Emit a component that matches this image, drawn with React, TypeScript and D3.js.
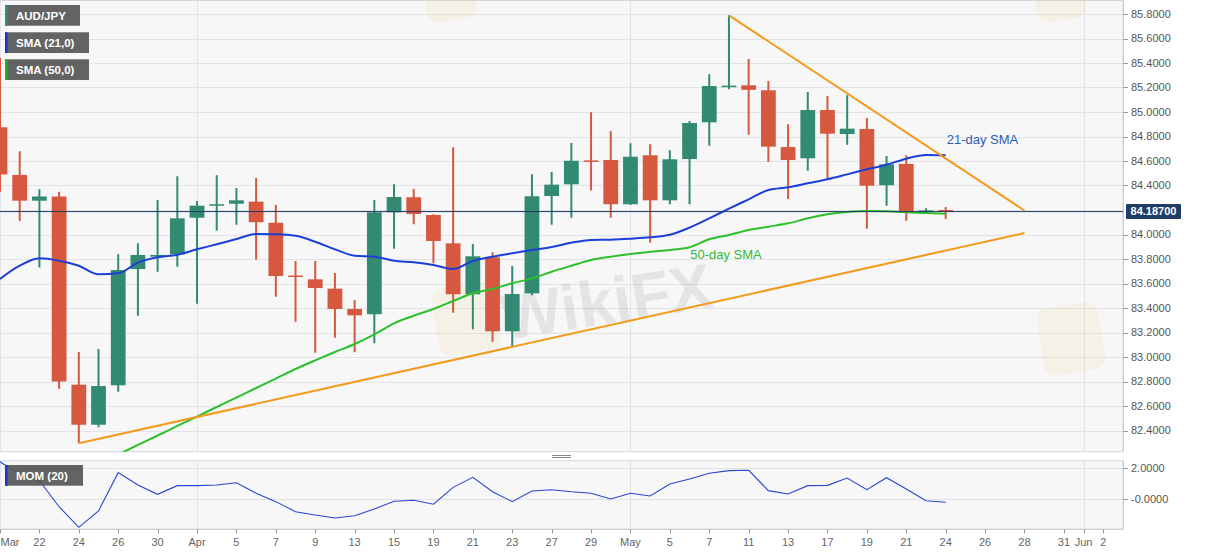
import React from 'react';
import * as d3 from 'd3';

const W = 1207;
const H = 555;

// ---------- DATA ----------
const barDates = [
  '2021-03-18', '2021-03-19', '2021-03-22', '2021-03-23', '2021-03-24', '2021-03-25', '2021-03-26',
  '2021-03-29', '2021-03-30', '2021-03-31', '2021-04-01', '2021-04-02',
  '2021-04-05', '2021-04-06', '2021-04-07', '2021-04-08', '2021-04-09',
  '2021-04-12', '2021-04-13', '2021-04-14', '2021-04-15', '2021-04-16',
  '2021-04-19', '2021-04-20', '2021-04-21', '2021-04-22', '2021-04-23',
  '2021-04-26', '2021-04-27', '2021-04-28', '2021-04-29', '2021-04-30',
  '2021-05-03', '2021-05-04', '2021-05-05', '2021-05-06', '2021-05-07',
  '2021-05-10', '2021-05-11', '2021-05-12', '2021-05-13', '2021-05-14',
  '2021-05-17', '2021-05-18', '2021-05-19', '2021-05-20', '2021-05-21',
  '2021-05-23', '2021-05-24',
];
const futureDates = ['2021-05-25', '2021-05-26', '2021-05-27', '2021-05-28', '2021-05-30', '2021-05-31', '2021-06-01', '2021-06-02'];

const opens = [
  84.875, 84.486, 84.276, 84.31, 82.774, 82.447, 82.769,
  83.718, 83.819, 83.838, 84.137, 84.24,
  84.251, 84.268, 84.096, 83.665, 83.634,
  83.558, 83.392, 83.349, 84.181, 84.304,
  84.159, 83.928, 83.512, 83.814, 83.21,
  83.52, 84.314, 84.41, 84.605, 84.608,
  84.247, 84.647, 84.279, 84.616, 84.916,
  85.21, 85.218, 85.177, 84.714, 84.622,
  85.016, 84.82, 84.861, 84.402, 84.576,
  84.19, 84.2,
];
const highs = [
  85.44, 84.68, 84.37, 84.35, 83.04, 83.065, 83.838,
  83.928, 84.282, 84.475, 84.273, 84.483,
  84.38, 84.461, 84.241, 83.784, 83.784,
  83.686, 83.465, 84.282, 84.41, 84.371,
  84.165, 84.712, 83.922, 83.855, 83.743,
  84.491, 84.51, 84.747, 84.998, 84.845,
  84.744, 84.736, 84.687, 84.927, 85.308,
  85.789, 85.433, 85.253, 84.9, 85.163,
  85.131, 85.136, 84.951, 84.641, 84.647,
  84.214, 84.224,
];
const lows = [
  84.35, 84.11, 83.73, 82.74, 82.296, 82.426, 82.717,
  83.337, 83.696, 83.737, 83.435, 84.031,
  84.08, 83.794, 83.492, 83.288, 83.035,
  83.158, 83.038, 83.112, 83.884, 84.083,
  83.765, 83.362, 83.226, 83.125, 83.09,
  83.504, 84.08, 84.137, 84.359, 84.137,
  84.24, 83.933, 84.247, 84.247, 84.725,
  85.185, 84.815, 84.594, 84.29, 84.521,
  84.453, 84.733, 84.047, 84.235, 84.113,
  84.181, 84.127,
];
const closes = [
  84.49, 84.276, 84.31, 82.8, 82.447, 82.763, 83.71,
  83.833, 83.833, 84.132, 84.235, 84.247,
  84.279, 84.1, 83.661, 83.655, 83.563,
  83.392, 83.34, 84.181, 84.306, 84.167,
  83.947, 83.512, 83.822, 83.21, 83.514,
  84.312, 84.407, 84.602, 84.598, 84.247,
  84.635, 84.279, 84.614, 84.91, 85.212,
  85.215, 85.181, 84.717, 84.608, 85.016,
  84.823, 84.864, 84.398, 84.573, 84.189,
  84.197, 84.187,
];

const sma21 = [
  83.637, 83.745, 83.806, 83.786, 83.745, 83.675, 83.683,
  83.77, 83.814, 83.835, 83.879, 83.92,
  83.963, 84.004, 84.002, 83.99, 83.941,
  83.879, 83.827, 83.819, 83.786, 83.773,
  83.751, 83.718, 83.784, 83.819, 83.847,
  83.873, 83.898, 83.933, 83.955, 83.958,
  83.966, 83.977, 83.998, 84.056, 84.132,
  84.211, 84.287, 84.363, 84.385, 84.418,
  84.451, 84.491, 84.532, 84.57, 84.619,
  84.649, 84.647,
];
const sma50: (number | null)[] = [
  null, null, null, null, null, 82.127, 82.204,
  82.282, 82.359, 82.437, 82.514, 82.592,
  82.669, 82.747, 82.824, 82.902, 82.973,
  83.041, 83.106, 83.185, 83.275, 83.337,
  83.392, 83.457, 83.52, 83.555, 83.602,
  83.642, 83.696, 83.745, 83.792, 83.819,
  83.841, 83.86, 83.873, 83.896, 83.961,
  83.996, 84.037, 84.064, 84.091, 84.132,
  84.165, 84.184, 84.192, 84.19, 84.181,
  84.176, 84.17,
];
const mom = [
  2.42, 1.6, 1.2, -0.48, -1.81, -0.75, 1.72,
  0.92, 0.32, 0.88, 0.88, 0.92,
  1.07, 0.39, -0.15, -0.8, -1.01,
  -1.21, -1.06, -0.63, -0.13, -0.06,
  -0.32, 0.77, 1.42, 0.49, -0.15,
  0.54, 0.62, 0.49, 0.39, 0.02,
  0.39, 0.21, 0.99, 1.31, 1.68,
  1.85, 1.87, 0.56, 0.34, 0.88,
  0.9, 1.37, 0.62, 1.39, 0.66,
  -0.09, -0.19,
];

const priceTicks = [82.4, 82.6, 82.8, 83.0, 83.2, 83.4, 83.6, 83.8, 84.0, 84.2, 84.4, 84.6, 84.8, 85.0, 85.2, 85.4, 85.6, 85.8];
const momTicks = [2, 0];
const momTickLabels = ['2.0000', '-0.0000'];
const tickDates = [
  '2021-03-18', '2021-03-22', '2021-03-24', '2021-03-26', '2021-03-30', '2021-04-01', '2021-04-05',
  '2021-04-07', '2021-04-09', '2021-04-13', '2021-04-15', '2021-04-19', '2021-04-21', '2021-04-23',
  '2021-04-27', '2021-04-29', '2021-05-03', '2021-05-05', '2021-05-07', '2021-05-11', '2021-05-13',
  '2021-05-17', '2021-05-19', '2021-05-21', '2021-05-24', '2021-05-26', '2021-05-28', '2021-05-31',
  '2021-06-01', '2021-06-02',
];
const tickTexts = [
  'Mar', '22', '24', '26', '30', 'Apr', '5', '7', '9', '13', '15', '19', '21', '23',
  '27', '29', 'May', '5', '7', '11', '13', '17', '19', '21', '24', '26', '28', '31', 'Jun', '2',
];
const monthStarts = ['2021-04-01', '2021-05-03', '2021-06-01'];
const lastPrice = 84.187;
const supportLine = [{ date: '2021-03-24', price: 82.296 }, { date: '2021-05-28', price: 84.012 }];
const resistanceLine = [{ date: '2021-05-10', price: 85.789 }, { date: '2021-05-28', price: 84.196 }];

// ---------- LAYOUT ----------
const plotL = 0;
const plotR = 1123;
const mainT = 0.5;
const mainB = 451.7;
const momT = 460.7;
const momB = 529.3;
const FONT = '"Liberation Sans", Arial, Helvetica, sans-serif';

const GREEN = '#338a72';
const RED = '#d6583f';
const BLUE = '#1c3fd8';
const SMA50C = '#2cc02c';
const ORANGE = '#f39a1c';

export default function App() {
  const allDates = [...barDates, ...futureDates];
  const idx = (d: string) => allDates.indexOf(d);

  const x = d3.scaleLinear().domain([0, 57]).range([plotL, plotR]);
  const y = d3.scaleLinear().domain([82.4, 85.8]).range([430.5, 14]);
  const ym = d3.scaleLinear().domain([0, 2]).range([499.3, 468.3]);

  const bodyW = (x(1) - x(0)) * 0.75;

  const line21 = d3.line<number>().x((_, i) => x(i)).y((d) => y(d)).curve(d3.curveMonotoneX)(sma21) || '';
  const line50 = d3
    .line<number | null>()
    .defined((d) => d !== null)
    .x((_, i) => x(i))
    .y((d) => y(d as number))
    .curve(d3.curveMonotoneX)(sma50) || '';
  const momLine = d3.line<number>().x((_, i) => x(i)).y((d) => ym(d))(mom) || '';
  const trend = d3
    .line<{ date: string; price: number }>()
    .x((d) => x(idx(d.date)))
    .y((d) => y(d.price));

  // faint decorative watermark logos
  const logos = [
    { x: 430, y: 290, s: 62 },
    { x: 1035, y: 310, s: 62 },
    { x: 420, y: -30, s: 50 },
    { x: 1030, y: -30, s: 50 },
  ];

  return (
    <svg
      width={W}
      height={H}
      style={{ position: 'fixed', left: 0, top: 0, background: '#fff', fontFamily: FONT }}
    >
      <defs>
        <clipPath id="mainClip">
          <rect x={plotL} y={mainT} width={plotR - plotL} height={mainB - mainT} />
        </clipPath>
        <clipPath id="momClip">
          <rect x={plotL} y={momT} width={plotR - plotL} height={momB - momT} />
        </clipPath>
      </defs>

      {/* panels */}
      <rect x={plotL} y={mainT} width={plotR - plotL} height={mainB - mainT} fill="#f7f7f8" stroke="#d3d6e2" strokeWidth={1} />
      <rect x={plotL} y={momT} width={plotR - plotL} height={momB - momT} fill="#f7f7f8" stroke="#d3d6e2" strokeWidth={1} />

      {/* horizontal grid */}
      {priceTicks.map((p) => (
        <line key={'g' + p} x1={plotL} x2={plotR} y1={Math.round(y(p)) + 0.5} y2={Math.round(y(p)) + 0.5} stroke="#e2e3e8" strokeWidth={1} />
      ))}
      {momTicks.map((v) => (
        <line key={'gm' + v} x1={plotL} x2={plotR} y1={Math.round(ym(v)) + 0.5} y2={Math.round(ym(v)) + 0.5} stroke="#e2e3e8" strokeWidth={1} />
      ))}
      {/* month vertical grid */}
      {monthStarts.map((d) => (
        <g key={'v' + d}>
          <line x1={Math.round(x(idx(d))) + 0.5} x2={Math.round(x(idx(d))) + 0.5} y1={mainT} y2={mainB} stroke="#e2e3e8" />
          <line x1={Math.round(x(idx(d))) + 0.5} x2={Math.round(x(idx(d))) + 0.5} y1={momT} y2={momB} stroke="#e2e3e8" />
        </g>
      ))}

      {/* watermark */}
      {logos.map((w, i) => (
        <rect key={'l' + i} x={w.x} y={w.y} width={w.s} height={w.s * 1.1} rx={12} fill="#e8a800" opacity={0.07} transform={`rotate(-9 ${w.x} ${w.y})`} />
      ))}
      <g transform="translate(505,340) rotate(-9)" opacity={0.07}>
        <text x={0} y={0} fontSize={64} fontWeight="bold" fill="#000">WikiFX</text>
      </g>

      {/* candles */}
      <g clipPath="url(#mainClip)">
        {barDates.map((d, i) => {
          const o = opens[i];
          const c = closes[i];
          const up = c >= o;
          const col = up ? GREEN : RED;
          const cx = x(i);
          const top = y(Math.max(o, c));
          const bot = y(Math.min(o, c));
          const h = Math.max(bot - top, 1.5);
          return (
            <g key={d}>
              <line x1={cx} x2={cx} y1={y(highs[i])} y2={y(lows[i])} stroke={col} strokeWidth={2} />
              <rect x={cx - bodyW / 2} y={top} width={bodyW} height={h} fill={col} />
            </g>
          );
        })}

        {/* SMAs */}
        <path d={line50} fill="none" stroke={SMA50C} strokeWidth={2} />
        <path d={line21} fill="none" stroke={BLUE} strokeWidth={2} />

        {/* trend lines */}
        <path d={trend(supportLine) || ''} fill="none" stroke={ORANGE} strokeWidth={2} />
        <path d={trend(resistanceLine) || ''} fill="none" stroke={ORANGE} strokeWidth={2} />

        {/* last price line */}
        <line x1={plotL} x2={plotR} y1={y(lastPrice)} y2={y(lastPrice)} stroke="#1e3a62" strokeWidth={1} />
      </g>

      {/* annotations */}
      <text x={x(48) + 1} y={y(84.74)} fontSize={13} fill="#2e5db5">21-day SMA</text>
      <text x={x(35) + 0.7} y={y(83.8)} fontSize={13} fill="#33bb33">50-day SMA</text>

      {/* momentum */}
      <g clipPath="url(#momClip)">
        <path d={momLine} fill="none" stroke="#2a46d0" strokeWidth={1.1} />
      </g>

      {/* right axis */}
      <line x1={plotR + 0.5} x2={plotR + 0.5} y1={mainT} y2={mainB} stroke="#c9ccd8" />
      <line x1={plotR + 0.5} x2={plotR + 0.5} y1={momT} y2={momB} stroke="#c9ccd8" />
      {priceTicks.map((p) =>
        Math.abs(p - 84.2) < 1e-6 ? null : (
          <g key={'t' + p}>
            <line x1={plotR} x2={plotR + 5} y1={Math.round(y(p)) + 0.5} y2={Math.round(y(p)) + 0.5} stroke="#999" />
            <text x={plotR + 8} y={y(p)} dy="0.35em" fontSize={11} fill="#555">
              {p.toFixed(4)}
            </text>
          </g>
        )
      )}
      {momTicks.map((v, i) => (
        <g key={'tm' + v}>
          <line x1={plotR} x2={plotR + 5} y1={Math.round(ym(v)) + 0.5} y2={Math.round(ym(v)) + 0.5} stroke="#999" />
          <text x={plotR + 8} y={ym(v)} dy="0.35em" fontSize={11} fill="#555">
            {momTickLabels[i]}
          </text>
        </g>
      ))}
      {/* last price label */}
      <rect x={plotR + 3} y={y(lastPrice) - 7.5} width={55} height={15} fill="#1f3d66" rx={1} />
      <text x={plotR + 30.5} y={y(lastPrice)} dy="0.35em" fontSize={11} fontWeight="bold" fill="#fff" textAnchor="middle">
        {lastPrice.toFixed(5)}
      </text>

      {/* bottom axis */}
      <line x1={plotL} x2={plotR} y1={momB} y2={momB} stroke="#c9ccd8" />
      {tickDates.map((d, i) => {
        const tx = x(idx(d));
        const lx = i === 0 ? tx + 10 : tx;
        return (
          <g key={'x' + d}>
            <line x1={Math.round(tx) + 0.5} x2={Math.round(tx) + 0.5} y1={momB} y2={momB + 4} stroke="#999" />
            <text x={lx} y={545.5} fontSize={11} fill="#666" textAnchor="middle">
              {tickTexts[i]}
            </text>
          </g>
        );
      })}

      {/* panel separator handle */}
      <line x1={552} x2={571} y1={455.5} y2={455.5} stroke="#888" />
      <line x1={552} x2={571} y1={457.5} y2={457.5} stroke="#888" />

      {/* legends */}
      {[
        { label: 'AUD/JPY', y0: 5, w: 75, c: '#3b8a76' },
        { label: 'SMA (21,0)', y0: 32.3, w: 84, c: '#1a35cc' },
        { label: 'SMA (50,0)', y0: 59.3, w: 84, c: '#22b022' },
        { label: 'MOM (20)', y0: 465, w: 78, c: '#1a35cc' },
      ].map((l) => (
        <g key={l.label}>
          <rect x={5} y={l.y0} width={l.w} height={20.7} fill="#575757" opacity={0.93} />
          <rect x={5} y={l.y0} width={2.5} height={20.7} fill={l.c} />
          <text x={16} y={l.y0 + 14.5} fontSize={11.5} fontWeight="bold" fill="#fff">
            {l.label}
          </text>
        </g>
      ))}
    </svg>
  );
}
